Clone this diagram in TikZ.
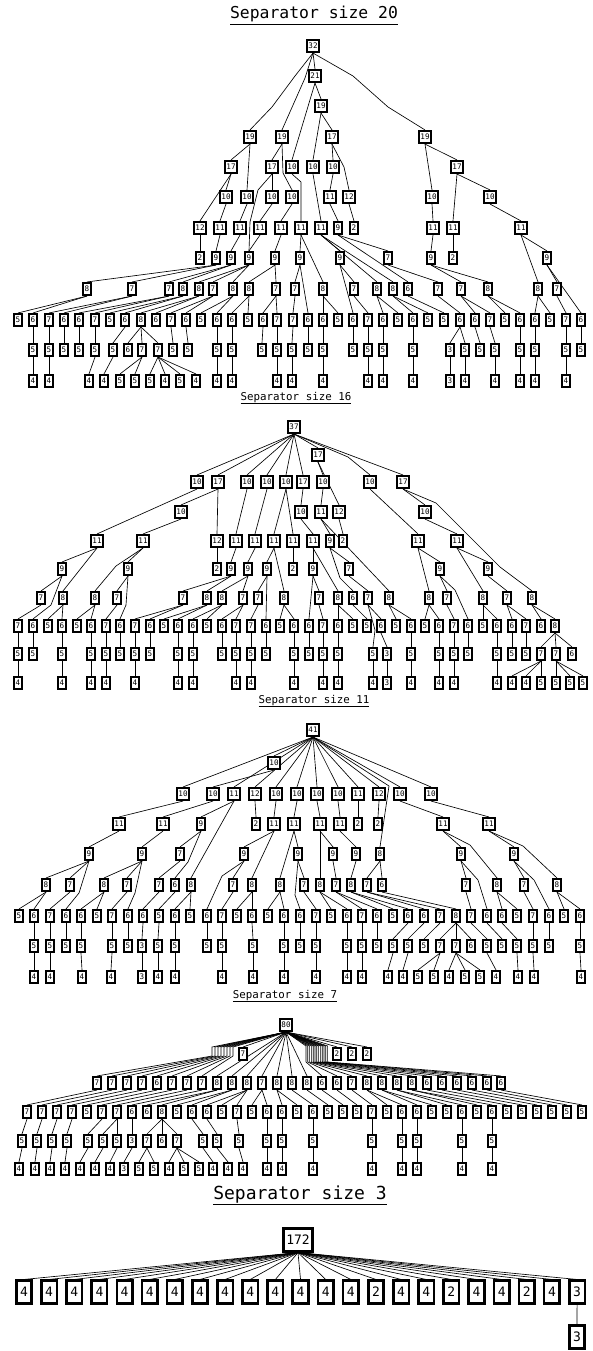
\documentclass[tikz,border=0pt]{standalone}
\usepackage{fontspec}
\newfontfamily\monof{DejaVu Sans Mono}
\pgfdeclarelayer{bg}
\pgfsetlayers{bg,main}
\tikzset{
  bx/.style={draw, line width=1.9pt, fill=white, inner xsep=1.8pt, inner ysep=0pt,
    minimum height=12.2pt, minimum width=8.2pt, font=\fontsize{7.6}{7.6}\selectfont\monof},
  bigbx/.style={draw, line width=2.6pt, fill=white, inner xsep=3pt, inner ysep=0pt,
    minimum height=22.5pt, minimum width=15.5pt, font=\fontsize{13}{13}\selectfont\monof},
  ed/.style={line width=0.65pt, black},
  ttl/.style={anchor=base, inner sep=0pt, font=\fontsize{10.8}{11}\selectfont\monof},
  bigttl/.style={anchor=base, inner sep=0pt, font=\fontsize{16.4}{17}\selectfont\monof},
  hugettl/.style={anchor=base, inner sep=0pt, font=\fontsize{18}{19}\selectfont\monof}
}
\newcommand\rowof[3]{\foreach \x/\lb in {#3} {\node[bx] (#1x\x) at (\x,#2) {\lb};}}
\newcommand\edgs[1]{\foreach \pa/\ch in {#1} {\draw[ed] (\pa.south) -- (\ch.north);}}
\begin{document}
\begin{tikzpicture}[x=1pt,y=-1pt]
\begin{pgfonlayer}{bg}
\fill[white] (0,0) rectangle (592,1351);
\end{pgfonlayer}
\useasboundingbox (0,0) rectangle (592,1351);

% ---------------- titles
\node[bigttl] (t20) at (314,19) {\underline{Separator size 20}};
\node[ttl] (t16) at (296,400) {\underline{Separator size 16}};
\node[ttl] (t11) at (314,703) {\underline{Separator size 11}};
\node[ttl] (t7) at (285,998) {\underline{Separator size 7}};
\node[hugettl] (t3) at (300,1199) {\underline{Separator size 3}};

% ---------------- tree 1
\rowof{a0}{46}{313/32}
\rowof{a1}{76}{315/21}
\rowof{a2}{106}{321/19}
\rowof{a3}{137}{250/19,282/19,332/17,425/19}
\rowof{a4}{167}{231/17,272/17,292/10,313/10,333/10,457/17}
\rowof{a5}{197}{226/10,247/10,272/10,292/10,330/11,349/12,432/10,490/10}
\rowof{a6}{228}{200/12,220/11,240/11,260/11,281/11,301/11,321/11,338/9,354/2,433/11,453/11,521/11}
\rowof{a7}{258}{200/2,216/9,231/9,249/9,275/9,300/9,340/9,388/7,431/9,453/2,547/9}
\rowof{a8}{289}{87/8,132/7,169/7,183/8,199/8,213/7,233/8,249/8,276/7,295/7,323/8,354/7,377/8,393/8,408/6,438/7,461/7,488/8,538/8,557/7}
\rowof{a9}{320}{18/5,33/6,49/7,64/6,79/6,95/7,110/5,125/6,141/8,156/6,171/7,186/6,201/5,217/6,232/6,248/5,263/6,277/7,293/7,308/6,323/6,338/5,353/6,368/7,383/6,398/5,413/6,428/5,444/5,460/6,475/6,490/7,505/5,520/6,535/6,550/5,566/7,581/6}
\rowof{a10}{350}{33/5,49/5,64/5,79/5,95/5,113/5,128/6,142/7,158/7,173/5,188/5,217/5,232/5,262/5,277/5,292/5,308/5,323/5,353/5,368/5,383/5,413/5,450/3,465/5,480/5,495/5,520/5,535/5,566/5,581/5}
\rowof{a11}{381}{33/4,49/4,89/4,104/4,120/5,135/5,150/5,165/4,180/5,196/4,217/4,232/4,277/4,292/4,323/4,368/4,383/4,413/4,450/3,465/4,495/4,520/4,535/4,566/4}

% ---------------- tree 2
\rowof{b0}{427}{294/37}
\rowof{b1}{455}{318/17}
\rowof{b2}{482}{197/10,218/17,247/10,267/10,286/10,303/17,323/10,370/10,403/17}
\rowof{b3}{512}{181/10,301/10,321/11,339/12,425/10}
\rowof{b4}{541}{97/11,143/11,217/12,236/11,255/11,274/11,293/11,313/11,330/9,343/2,418/11,457/11}
\rowof{b5}{569}{62/9,128/9,217/2,231/9,248/9,267/9,293/2,313/9,349/7,440/9,488/9}
\rowof{b6}{598}{41/7,63/8,95/8,117/7,183/7,207/8,222/8,243/7,258/7,284/8,319/7,338/8,353/6,368/7,389/8,429/8,447/7,483/8,507/7,532/8}
\rowof{b7}{626}{18/7,33/6,48/5,62/6,77/5,91/6,106/7,120/6,135/7,150/6,164/5,178/6,193/6,207/5,222/6,236/7,251/7,266/6,280/5,294/6,309/6,323/7,338/6,353/5,367/5,381/6,396/5,411/6,425/5,439/6,454/7,468/6,483/5,497/6,512/6,526/7,541/6,555/8}
\rowof{b8}{654}{18/5,33/5,62/5,91/5,106/5,120/5,135/5,150/5,178/5,193/5,222/5,236/5,251/5,266/5,294/5,309/5,323/5,338/5,373/5,387/3,411/5,439/5,454/5,468/5,497/5,512/5,526/5,541/7,556/7,572/6}
\rowof{b9}{683}{18/4,62/4,91/4,106/4,135/4,178/4,193/4,236/4,251/4,294/4,323/4,338/4,373/4,387/3,411/4,439/4,454/4,497/4,512/4,526/4,541/5,556/5,570/5,583/5}

% ---------------- tree 3
\rowof{c0}{730}{313/41}
\rowof{c1}{763}{274/10}
\rowof{c2}{794}{183/10,213/10,234/11,255/12,276/10,297/10,317/10,338/10,358/11,379/12,400/10,431/10}
\rowof{c3}{824}{119/11,163/11,201/9,256/2,274/11,294/11,320/11,340/11,358/2,378/2,443/11,489/11}
\rowof{c4}{854}{89/9,142/9,180/7,244/9,298/9,333/9,356/9,380/8,461/9,514/9}
\rowof{c5}{885}{46/8,70/7,104/8,127/7,159/7,175/6,191/8,233/7,252/8,280/8,304/7,320/8,336/7,351/8,367/7,382/6,466/7,497/8,524/7,557/8}
\rowof{c6}{916}{19/5,34/6,50/7,66/6,81/6,97/5,112/7,128/6,143/6,159/5,175/6,190/5,207/6,222/7,237/5,252/6,268/5,284/6,300/6,316/7,331/5,347/6,362/7,377/6,393/5,408/6,424/6,440/7,456/8,471/7,487/6,502/6,517/5,533/7,549/6,564/5,580/6}
\rowof{c7}{946}{34/5,50/5,66/5,81/5,112/5,128/5,142/3,158/5,175/5,207/5,222/5,253/5,284/5,300/5,316/5,347/5,362/5,377/5,393/5,408/5,424/5,440/7,456/7,471/6,487/5,502/5,517/5,533/5,549/5,580/5}
\rowof{c8}{977}{34/4,50/4,82/4,111/4,142/3,158/4,175/4,222/4,253/4,284/4,316/4,347/4,362/4,388/4,403/4,418/5,434/5,449/4,465/5,480/5,496/4,518/4,534/4,581/4}

% ---------------- tree 4
\rowof{d0}{1025}{286/80}
\rowof{d1}{1054}{243/7,337/2,352/2,367/2}
\rowof{d2}{1083}{97/7,112/7,127/7,142/7,157/6,172/7,187/7,202/7,217/8,232/8,247/8,262/7,277/8,292/8,307/8,322/6,337/6,352/7,367/8,382/8,397/8,412/8,427/6,442/6,457/6,472/6,487/6,501/6}
\rowof{d3}{1112}{27/7,42/7,57/7,72/7,87/5,102/7,117/7,132/6,147/6,162/8,177/5,192/6,207/6,222/5,237/7,252/5,267/6,282/6,297/5,313/6,328/5,343/5,357/5,372/7,387/5,402/6,417/6,432/5,447/5,462/6,477/5,492/6,507/5,522/5,537/5,552/5,567/5,582/5}
\rowof{d4}{1141}{22/5,37/5,52/5,67/5,88/5,103/5,117/5,132/3,147/7,162/6,177/7,203/5,217/5,239/5,267/5,282/5,313/5,372/5,402/5,417/5,462/5,492/5}
\rowof{d5}{1169}{19/4,35/4,50/4,65/4,80/4,95/4,110/4,124/3,139/5,154/5,169/4,184/5,199/5,213/4,228/4,243/4,267/4,282/4,313/4,372/4,402/4,417/4,462/4,492/4}

% ---------------- tree 5
\node[bigbx] (e0) at (298,1240) {172};
\foreach \i/\lb in {0/4,1/4,2/4,3/4,4/4,5/4,6/4,7/4,8/4,9/4,10/4,11/4,12/4,13/4,14/2,15/4,16/4,17/2,18/4,19/4,20/2,21/4,22/3}
  {\node[bigbx] (e1x\i) at ({24+25.14*\i},1292) {\lb};}
\node[bigbx] (e2) at (577,1337) {3};

% ================= edges
\begin{pgfonlayer}{bg}
% tree 1
\draw[ed] (a0x313.south) -- (295,76) -- (272,107) -- (a3x250.north);
\draw[ed] (a0x313.south) -- (305,78) -- (a3x282.north);
\draw[ed] (a0x313.south) -- (353,76) -- (388,107) -- (a3x425.north);
\draw[ed] (a3x282.south) -- (283,173) -- (a5x292.north);
\draw[ed] (a3x332.south) -- (344,167) -- (a5x349.north);
\draw[ed] (a4x292.south) -- (301,182) -- (a6x301.north);
\draw[ed] (a4x272.south) -- (258,190) -- (250,222) -- (a7x249.north);
\edgs{a0x313/a1x315,a1x315/a2x321,a1x315/a4x292,a2x321/a3x332,a2x321/a4x313,a3x250/a4x231,a3x250/a5x247,
a3x282/a4x272,a3x332/a4x333,a3x425/a5x432,a3x425/a4x457,a4x457/a5x490,a4x457/a6x453,a4x231/a5x226,a4x231/a6x200,
a4x272/a5x272,a4x313/a6x321,a4x333/a5x330,a5x226/a6x220,a5x247/a6x240,a5x272/a6x260,a5x292/a6x281,a5x330/a6x338,
a5x349/a6x354,a5x432/a6x433,a5x490/a6x521,a6x200/a7x200,a6x220/a7x216,a6x240/a7x231,a6x260/a7x249,a6x281/a7x275,
a6x301/a7x300,a6x301/a8x323,a6x321/a7x340,a6x321/a8x377,a6x321/a8x393,a6x338/a7x388,a6x338/a8x408,a6x433/a7x431,
a6x453/a7x453,a6x521/a7x547,a6x521/a8x538,a7x216/a8x87,a7x216/a8x132,a7x231/a8x169,a7x231/a8x183,a7x249/a8x199,
a7x249/a8x213,a7x249/a8x233,a7x275/a8x249,a7x275/a8x276,a7x300/a8x295,a7x340/a8x354,a7x388/a8x438,a7x431/a8x461,
a7x431/a8x488,a7x547/a8x557,a7x300/a9x308,a7x340/a9x353,a7x547/a9x581}
\edgs{a8x87/a9x18,a8x87/a9x33,a8x132/a9x49,a8x132/a9x64,a8x169/a9x79,a8x169/a9x95,a8x183/a9x110,a8x183/a9x125,
a8x199/a9x141,a8x199/a9x156,a8x213/a9x171,a8x213/a9x186,a8x233/a9x201,a8x233/a9x217,a8x249/a9x232,a8x249/a9x248,
a8x276/a9x263,a8x276/a9x277,a8x295/a9x293,a8x323/a9x323,a8x323/a9x338,a8x354/a9x368,a8x377/a9x383,a8x377/a9x398,
a8x393/a9x413,a8x393/a9x428,a8x408/a9x444,a8x438/a9x460,a8x461/a9x475,a8x461/a9x490,a8x488/a9x505,a8x488/a9x520,
a8x538/a9x535,a8x538/a9x550,a8x557/a9x566}
\edgs{a9x33/a10x33,a9x49/a10x49,a9x64/a10x64,a9x79/a10x79,a9x95/a10x95,a9x125/a10x113,a9x141/a10x128,a9x141/a10x142,
a9x141/a10x158,a9x171/a10x173,a9x186/a10x188,a9x217/a10x217,a9x232/a10x232,a9x263/a10x262,a9x277/a10x277,
a9x293/a10x292,a9x308/a10x308,a9x323/a10x323,a9x353/a10x353,a9x368/a10x368,a9x383/a10x383,a9x413/a10x413,
a9x460/a10x450,a9x460/a10x465,a9x475/a10x480,a9x490/a10x495,a9x520/a10x520,a9x535/a10x535,a9x566/a10x566,a9x581/a10x581}
\edgs{a10x33/a11x33,a10x49/a11x49,a10x95/a11x89,a10x113/a11x104,a10x142/a11x120,a10x142/a11x135,a10x158/a11x150,
a10x158/a11x165,a10x158/a11x180,a10x158/a11x196,a10x217/a11x217,a10x232/a11x232,a10x277/a11x277,a10x292/a11x292,
a10x323/a11x323,a10x368/a11x368,a10x383/a11x383,a10x413/a11x413,a10x450/a11x450,a10x465/a11x465,a10x495/a11x495,
a10x520/a11x520,a10x535/a11x535,a10x566/a11x566}
% tree 2
\draw[ed] (b0x294.south) -- (348,457) -- (b2x370.north);
\draw[ed] (b2x403.south) -- (436,503) -- (500,567) -- (b6x532.north);
\draw[ed] (b5x62.south) -- (51,605) -- (b7x33.north);
\draw[ed] (b5x128.south) -- (126,605) -- (b7x120.north);
\draw[ed] (b5x440.south) -- (455,590) -- (b7x468.north);
\draw[ed] (b4x330.south) -- (340,578) -- (b6x353.north);
\draw[ed] (b4x143.south) -- (116,566) -- (b6x95.north);
\draw[ed] (b6x368.south) -- (375,630) -- (b8x373.north);
\edgs{b0x294/b2x197,b0x294/b2x218,b0x294/b2x247,b0x294/b2x267,b0x294/b2x286,b0x294/b2x303,b0x294/b1x318,b0x294/b2x403,
b1x318/b2x323,b1x318/b3x339,b2x197/b4x97,b2x218/b3x181,b2x218/b4x217,b2x247/b4x236,b2x267/b4x255,b2x286/b4x274,
b2x286/b4x293,b2x303/b3x301,b2x323/b3x321,b2x370/b4x418,b2x403/b3x425,b3x181/b4x143,b3x301/b4x313,b3x321/b4x330,
b3x321/b6x389,b3x339/b4x343,b3x425/b4x457}
\edgs{b4x97/b5x62,b4x97/b6x63,b4x143/b5x128,b4x217/b5x217,b4x236/b5x231,b4x255/b5x248,b4x274/b5x267,b4x274/b6x284,
b4x293/b5x293,b4x313/b5x313,b4x313/b6x338,b4x330/b5x349,b4x418/b5x440,b4x418/b6x429,b4x457/b5x488,b4x457/b6x483,
b5x62/b6x41,b5x128/b6x117,b5x231/b6x183,b5x231/b6x207,b5x248/b6x222,b5x248/b6x243,b5x267/b6x258,b5x267/b7x266,
b5x313/b6x319,b5x313/b7x309,b5x349/b6x368,b5x440/b6x447,b5x488/b6x507}
\edgs{b6x41/b7x18,b6x63/b7x48,b6x63/b7x62,b6x95/b7x77,b6x95/b7x91,b6x117/b7x106,b6x183/b7x135,b6x183/b7x150,
b6x207/b7x164,b6x207/b7x178,b6x222/b7x193,b6x222/b7x207,b6x243/b7x222,b6x243/b7x236,b6x258/b7x251,b6x284/b7x280,
b6x284/b7x294,b6x319/b7x323,b6x338/b7x338,b6x338/b7x353,b6x353/b7x367,b6x368/b7x381,b6x389/b7x396,b6x389/b7x411,
b6x429/b7x425,b6x429/b7x439,b6x447/b7x454,b6x483/b7x483,b6x483/b7x497,b6x507/b7x512,b6x507/b7x526,b6x532/b7x541,
b6x532/b7x555}
\edgs{b7x18/b8x18,b7x33/b8x33,b7x62/b8x62,b7x91/b8x91,b7x106/b8x106,b7x120/b8x120,b7x135/b8x135,b7x150/b8x150,
b7x178/b8x178,b7x193/b8x193,b7x222/b8x222,b7x236/b8x236,b7x251/b8x251,b7x266/b8x266,b7x294/b8x294,b7x309/b8x309,
b7x323/b8x323,b7x338/b8x338,b7x381/b8x387,b7x411/b8x411,b7x439/b8x439,b7x454/b8x454,b7x468/b8x468,b7x497/b8x497,
b7x512/b8x512,b7x526/b8x526,b7x555/b8x541,b7x555/b8x556,b7x555/b8x572}
\edgs{b8x18/b9x18,b8x62/b9x62,b8x91/b9x91,b8x106/b9x106,b8x135/b9x135,b8x178/b9x178,b8x193/b9x193,b8x236/b9x236,
b8x251/b9x251,b8x294/b9x294,b8x323/b9x323,b8x338/b9x338,b8x373/b9x373,b8x387/b9x387,b8x411/b9x411,b8x439/b9x439,
b8x454/b9x454,b8x497/b9x497,b8x541/b9x512,b8x541/b9x526,b8x541/b9x541,b8x556/b9x556,b8x556/b9x570,b8x556/b9x583}
% tree 3
\draw[ed] (c0x313.south) -- (389,786) -- (c4x380.north);
\draw[ed] (c3x201.south) -- (188,862) -- (c5x175.north);
\draw[ed] (c3x443.south) -- (470,845) -- (c5x497.north);
\draw[ed] (c3x489.south) -- (523,846) -- (c5x557.north);
\draw[ed] (c4x89.south) -- (79,893) -- (c6x66.north);
\draw[ed] (c4x142.south) -- (135,893) -- (c6x128.north);
\draw[ed] (c4x244.south) -- (222,876) -- (c6x207.north);
\draw[ed] (c4x298.south) -- (295,895) -- (c6x300.north);
\draw[ed] (c4x461.south) -- (478,880) -- (c6x487.north);
\draw[ed] (c4x514.south) -- (534,880) -- (c6x549.north);
\edgs{c0x313/c1x274,c0x313/c2x183,c0x313/c2x234,c0x313/c2x255,c0x313/c2x276,c0x313/c2x297,c0x313/c2x317,c0x313/c2x338,
c0x313/c2x358,c0x313/c2x379,c0x313/c2x400,c0x313/c2x431,c1x274/c2x213,c2x183/c3x119,c2x213/c3x163,c2x234/c3x201,
c2x234/c5x191,c2x255/c3x256,c2x276/c3x274,c2x297/c3x294,c2x317/c3x320,c2x338/c3x340,c2x358/c3x358,c2x379/c3x378,
c2x400/c3x443,c2x431/c3x489,c3x119/c4x89,c3x163/c4x142,c3x201/c4x180,c3x274/c4x244,c3x274/c5x252,c3x294/c4x298,
c3x294/c5x280,c3x320/c4x333,c3x320/c5x320,c3x340/c4x356,c3x443/c4x461,c3x489/c4x514,c4x89/c5x46,c4x89/c5x70,
c4x142/c5x104,c4x142/c5x127,c4x180/c5x159,c4x244/c5x233,c4x298/c5x304,c4x333/c5x336,c4x356/c5x351,c4x380/c5x367,
c4x380/c5x382,c4x461/c5x466,c4x514/c5x524}
\edgs{c5x46/c6x19,c5x46/c6x34,c5x70/c6x50,c5x104/c6x81,c5x104/c6x97,c5x127/c6x112,c5x159/c6x143,c5x175/c6x159,
c5x191/c6x175,c5x191/c6x190,c5x233/c6x222,c5x252/c6x237,c5x252/c6x252,c5x280/c6x268,c5x280/c6x284,c5x304/c6x316,
c5x320/c6x331,c5x320/c6x347,c5x336/c6x362,c5x336/c6x377,c5x351/c6x393,c5x351/c6x408,c5x367/c6x424,c5x367/c6x440,
c5x382/c6x456,c5x466/c6x471,c5x497/c6x502,c5x497/c6x517,c5x524/c6x533,c5x557/c6x564,c5x557/c6x580}
\edgs{c6x34/c7x34,c6x50/c7x50,c6x66/c7x66,c6x81/c7x81,c6x112/c7x112,c6x128/c7x128,c6x143/c7x142,c6x159/c7x158,
c6x175/c7x175,c6x207/c7x207,c6x222/c7x222,c6x252/c7x253,c6x284/c7x284,c6x300/c7x300,c6x316/c7x316,c6x347/c7x347,
c6x362/c7x362,c6x377/c7x377,c6x408/c7x393,c6x424/c7x408,c6x440/c7x424,c6x456/c7x440,c6x456/c7x456,c6x456/c7x471,
c6x471/c7x487,c6x487/c7x502,c6x502/c7x517,c6x533/c7x533,c6x549/c7x549,c6x580/c7x580}
\edgs{c7x34/c8x34,c7x50/c8x50,c7x81/c8x82,c7x112/c8x111,c7x142/c8x142,c7x158/c8x158,c7x175/c8x175,c7x222/c8x222,
c7x253/c8x253,c7x284/c8x284,c7x316/c8x316,c7x347/c8x347,c7x362/c8x362,c7x393/c8x388,c7x408/c8x403,c7x440/c8x418,
c7x440/c8x434,c7x456/c8x449,c7x456/c8x465,c7x456/c8x480,c7x487/c8x496,c7x517/c8x518,c7x533/c8x534,c7x580/c8x581}
% tree 4
\foreach \ch [count=\k from 0] in {97,112,127,142,157,172,187,202}
  {\draw[ed] (d0x286.south) -- ({212+3*\k},1047) -- ({212+3*\k},1056) -- (d2x\ch.north);}
\foreach \ch [count=\k from 0] in {322,337,352,367,382,397,412,427,442,457,472,487,501}
  {\draw[ed] (d0x286.south) -- ({306+1.8*\k},1046) -- ({306+1.8*\k},1062) -- (d2x\ch.north);}
\foreach \ch in {217,232,247,262,277,292,307}
  {\draw[ed] (d0x286.south) -- (d2x\ch.north);}
\edgs{d0x286/d1x243,d0x286/d1x337,d0x286/d1x352,d0x286/d1x367}
\edgs{d2x97/d3x27,d2x112/d3x42,d2x127/d3x57,d2x142/d3x72,d2x157/d3x87,d2x172/d3x102,d2x187/d3x117,d2x202/d3x132,
d2x217/d3x147,d2x217/d3x162,d2x232/d3x177,d2x232/d3x192,d2x247/d3x207,d2x247/d3x222,d2x247/d3x237,d2x262/d3x252,
d2x262/d3x267,d2x277/d3x282,d2x277/d3x297,d2x292/d3x313,d2x307/d3x328,d2x322/d3x343,d2x337/d3x357,d2x352/d3x372,
d2x367/d3x387,d2x367/d3x402,d2x382/d3x417,d2x382/d3x432,d2x397/d3x447,d2x397/d3x462,d2x412/d3x477,d2x412/d3x492,
d2x427/d3x507,d2x442/d3x522,d2x457/d3x537,d2x472/d3x552,d2x487/d3x567,d2x501/d3x582}
\edgs{d3x27/d4x22,d3x42/d4x37,d3x57/d4x52,d3x72/d4x67,d3x102/d4x88,d3x117/d4x103,d3x117/d4x117,d3x132/d4x132,
d3x162/d4x147,d3x162/d4x162,d3x162/d4x177,d3x192/d4x203,d3x207/d4x217,d3x237/d4x239,d3x267/d4x267,d3x282/d4x282,
d3x313/d4x313,d3x372/d4x372,d3x402/d4x402,d3x417/d4x417,d3x462/d4x462,d3x492/d4x492}
\edgs{d4x22/d5x19,d4x37/d5x35,d4x52/d5x50,d4x67/d5x65,d4x88/d5x80,d4x103/d5x95,d4x117/d5x110,d4x132/d5x124,
d4x147/d5x139,d4x147/d5x154,d4x177/d5x169,d4x177/d5x184,d4x177/d5x199,d4x203/d5x213,d4x217/d5x228,d4x239/d5x243,
d4x267/d5x267,d4x282/d5x282,d4x313/d5x313,d4x372/d5x372,d4x402/d5x402,d4x417/d5x417,d4x462/d5x462,d4x492/d5x492}
% tree 5
\foreach \i in {0,...,22} {\draw[ed] (e0.south) -- (e1x\i.north);}
\draw[ed] (e1x22.south) -- (e2.north);
\end{pgfonlayer}
\end{tikzpicture}
\end{document}
